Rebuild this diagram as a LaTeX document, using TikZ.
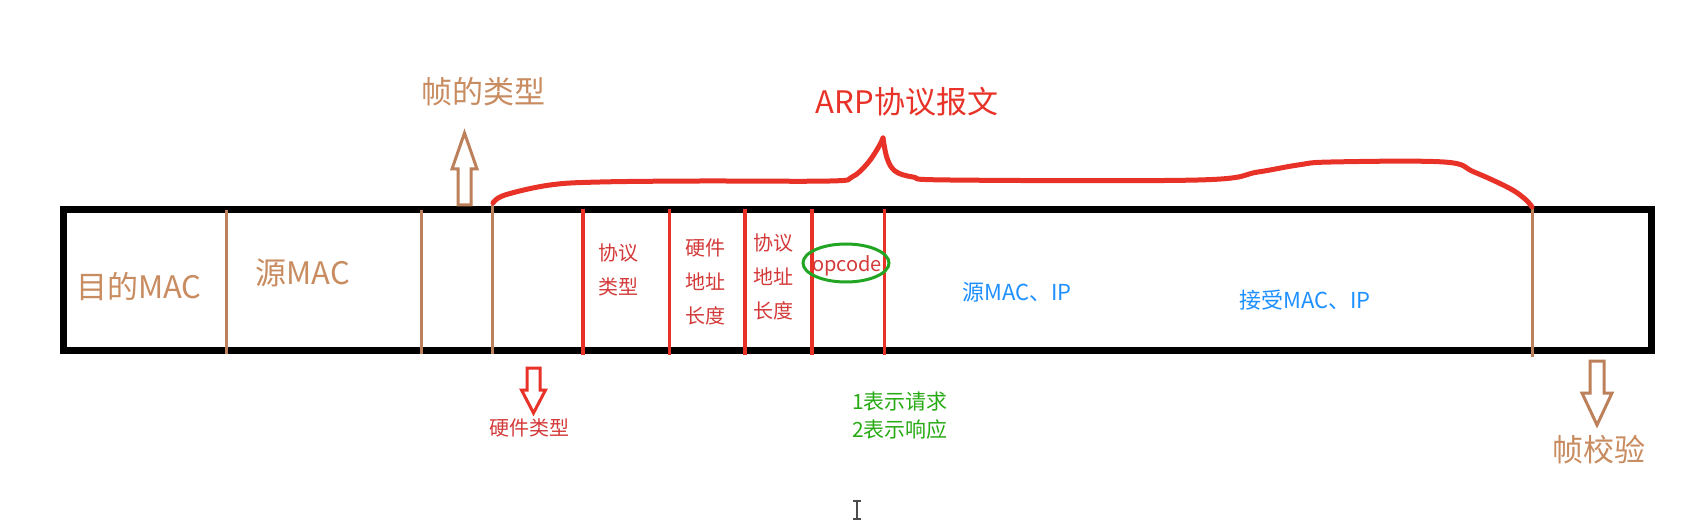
\documentclass[tikz,border=0pt]{standalone}
\usepackage{fontspec}
\setmainfont{Noto Sans CJK SC}
\definecolor{tanc}{RGB}{188,128,90}
\definecolor{tantext}{RGB}{200,140,96}
\definecolor{redl}{RGB}{232,50,40}
\definecolor{redt}{RGB}{212,58,58}
\definecolor{grn}{RGB}{34,165,34}
\definecolor{grnt}{RGB}{40,170,20}
\definecolor{blu}{RGB}{30,144,255}
\tikzset{
  framebox/.style={line width=7pt, draw=black},
  tandiv/.style={line width=3pt, draw=tanc},
  reddiv/.style={line width=3.5pt, draw=redl},
  bracepath/.style={line width=5pt, draw=redl, line cap=round, line join=round},
  hollowarrow/.style={line width=3pt, line join=miter, fill=white},
  bigtan/.style={text=tantext, font=\fontsize{31}{33}\selectfont, inner sep=0pt},
  smallred/.style={text=redt, font=\fontsize{20}{34}\selectfont, inner sep=0pt, align=center},
  bluetext/.style={text=blu, font=\fontsize{22}{24}\selectfont, inner sep=0pt},
  greentext/.style={text=grnt, font=\fontsize{21}{28}\selectfont, inner sep=0pt, align=left},
}
\begin{document}
\begin{tikzpicture}[x=1pt,y=-1pt]
\useasboundingbox[fill=white] (0,0) rectangle (1694,529);

% frame
\draw[framebox] (63.5,209.5) rectangle (1651.5,350.5);

% dividers
\coordinate (t1) at (226,210); \coordinate (b1) at (226,354);
\coordinate (t2) at (421,210); \coordinate (b2) at (421,354);
\coordinate (t3) at (492.5,205); \coordinate (b3) at (492.5,354);
\coordinate (t9) at (1532,207); \coordinate (b9) at (1532,357);
\draw[tandiv] (t1) -- (b1);
\draw[tandiv] (t2) -- (b2);
\draw[tandiv] (t3) -- (b3);
\draw[tandiv] (t9) -- (b9);
\foreach \xx/\nm in {583/r1,669.5/r2,745/r3,812/r4,884.5/r5}{
  \coordinate (\nm t) at (\xx,209);
  \coordinate (\nm b) at (\xx,355);
  \draw[reddiv] (\nm t) -- (\nm b);
}

% ARP brace
\draw[bracepath] plot[smooth, tension=0.6] coordinates {(493,203) (505,195) (550,185) (600,182) (700,181) (830,181) (852,177) (867,164) (878,148) (883,138)};
\draw[bracepath] plot[smooth, tension=0.6] coordinates {(883,138) (887,158) (895,171) (913,177) (950,180) (1198,180) (1258,172) (1298,165) (1331,162) (1444,162) (1474,172) (1509,188) (1525,199) (1532,207)};

% up arrow (frame type)
\draw[hollowarrow, draw=tanc] (458,205) -- (458,169) -- (452,169) -- (464.5,133) -- (477,169) -- (471,169) -- (471,205) -- cycle;
% down arrow (hardware type)
\draw[hollowarrow, draw=redl] (527,368) -- (540,368) -- (540,390) -- (545.5,390) -- (533.5,413) -- (521.5,390) -- (527,390) -- cycle;
% down arrow (frame check)
\draw[hollowarrow, draw=tanc] (1590,361) -- (1604,361) -- (1604,393) -- (1612,393) -- (1597,425) -- (1582,393) -- (1590,393) -- cycle;

% opcode ellipse
\draw[grn, line width=3pt] (846,263) ellipse [x radius=43, y radius=19];

% labels
\node[bigtan] (dstmac) at (139,287) {目的MAC};
\node[bigtan] (srcmac) at (303,273) {源MAC};
\node[bigtan] (ftype) at (483,92) {帧的类型};
\node[bigtan] (fcs) at (1599,450) {帧校验};
\node[text=redl, font=\fontsize{31}{33}\selectfont, inner sep=0pt] (arp) at (907,102) {ARP协议报文};
\node[smallred] (ptype) at (618,270) {协议\\类型};
\node[smallred] (hlen) at (705,282) {硬件\\地址\\长度};
\node[smallred] (plen) at (773,277) {协议\\地址\\长度};
\node[smallred] (htype) at (529,428) {硬件类型};
\node[text=redt, font=\fontsize{20}{22}\selectfont, inner sep=0pt] (opcode) at (847,266) {opcode};
\node[bluetext] (srcip) at (1017,292) {源MAC、IP};
\node[bluetext] (dstip) at (1305,300) {接受MAC、IP};
\node[greentext, anchor=west] (opmean) at (852,416) {1表示请求\\2表示响应};

% text cursor
\draw[black!70, line width=1.5pt] (853,501) -- (861,501) (857,501) -- (857,519) (853,519) -- (861,519);
\end{tikzpicture}
\end{document}
